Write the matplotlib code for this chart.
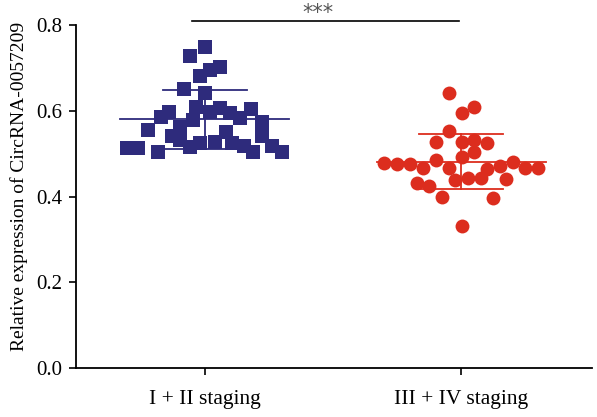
import numpy as np
import matplotlib.pyplot as plt

plt.rcParams['font.family'] = ['Liberation Serif', 'DejaVu Serif']

groups = ['I + II staging', 'III + IV staging']

# relative expression per patient (x offset inside the column, value)
early_offset = [-0.305, -0.262, -0.223, -0.184, -0.172, -0.141, -0.129, -0.098,
                -0.082, -0.059, -0.047, -0.035, -0.020, 0.000, -0.020, 0.020,
                0.059, 0.000, 0.020, 0.039, 0.059, 0.082, 0.098, 0.105,
                0.137, 0.152, 0.180, 0.188, 0.223, 0.223, 0.262, 0.301,
                -0.098, -0.059]
early_value = [0.513, 0.513, 0.555, 0.504, 0.585, 0.597, 0.541, 0.562,
               0.651, 0.728, 0.578, 0.609, 0.525, 0.749, 0.681, 0.695,
               0.702, 0.641, 0.597, 0.527, 0.606, 0.550, 0.595, 0.525,
               0.583, 0.518, 0.604, 0.504, 0.574, 0.541, 0.518, 0.504,
               0.532, 0.515]

late_offset = [-0.047, 0.004, 0.051, -0.047, -0.098, 0.004, 0.051, 0.102,
               0.004, 0.051, -0.098, -0.301, -0.250, -0.199, -0.148, -0.047,
               -0.023, 0.027, 0.078, 0.102, 0.152, 0.203, 0.250, 0.301,
               0.176, -0.172, -0.125, -0.074, 0.125, 0.004]
late_value = [0.641, 0.595, 0.609, 0.553, 0.527, 0.527, 0.532, 0.524,
              0.492, 0.504, 0.485, 0.478, 0.476, 0.476, 0.466, 0.466,
              0.438, 0.443, 0.443, 0.464, 0.471, 0.480, 0.466, 0.466,
              0.441, 0.431, 0.424, 0.399, 0.396, 0.331]

blue = '#2e2b7c'
red = '#dc2d1e'

fig = plt.figure(figsize=(5.97, 4.17), dpi=100)
ax = fig.add_axes([0.127, 0.1175, 0.865, 0.8225])

ax.scatter(np.array(early_offset), early_value, marker='s', s=105,
           color=blue, linewidths=0, zorder=3)
ax.scatter(1 + np.array(late_offset), late_value, marker='o', s=100,
           color=red, linewidths=0, zorder=3)

# mean and SD bars
for i, (vals, c) in enumerate([(early_value, blue), (late_value, red)]):
    m = np.mean(vals)
    sd = np.std(vals, ddof=1)
    ax.plot([i - 0.33, i + 0.33], [m, m], color=c, lw=1.3, zorder=4)
    ax.plot([i - 0.165, i + 0.165], [m + sd, m + sd], color=c, lw=1.3, zorder=4)
    ax.plot([i - 0.165, i + 0.165], [m - sd, m - sd], color=c, lw=1.3, zorder=4)
    ax.plot([i, i], [m - sd, m + sd], color=c, lw=1.3, zorder=4)

# significance bracket
ax.plot([-0.05, 0.99], [0.809, 0.809], color='black', lw=1.2, clip_on=False)
ax.text(0.44, 0.828, '***', ha='center', va='center', fontsize=15,
        color='#555555', family='DejaVu Sans')

ax.set_xlim(-0.504, 0.512 + 1)
ax.set_ylim(0, 0.8)
ax.set_xticks([0, 1])
ax.set_xticklabels(groups, fontsize=15.5)
ax.set_yticks([0, 0.2, 0.4, 0.6, 0.8])
ax.set_yticklabels(['0.0', '0.2', '0.4', '0.6', '0.8'], fontsize=15)
ax.set_ylabel('Relative expression of CircRNA-0057209', fontsize=14)
ax.yaxis.set_label_coords(-0.093, 0.53)

for side in ['top', 'right']:
    ax.spines[side].set_visible(False)
for side in ['left', 'bottom']:
    ax.spines[side].set_linewidth(1.3)
ax.tick_params(direction='out', length=5, width=1.2)
ax.tick_params(axis='x', pad=11)
ax.tick_params(axis='y', pad=5)

fig.savefig('out.png', dpi=100)
